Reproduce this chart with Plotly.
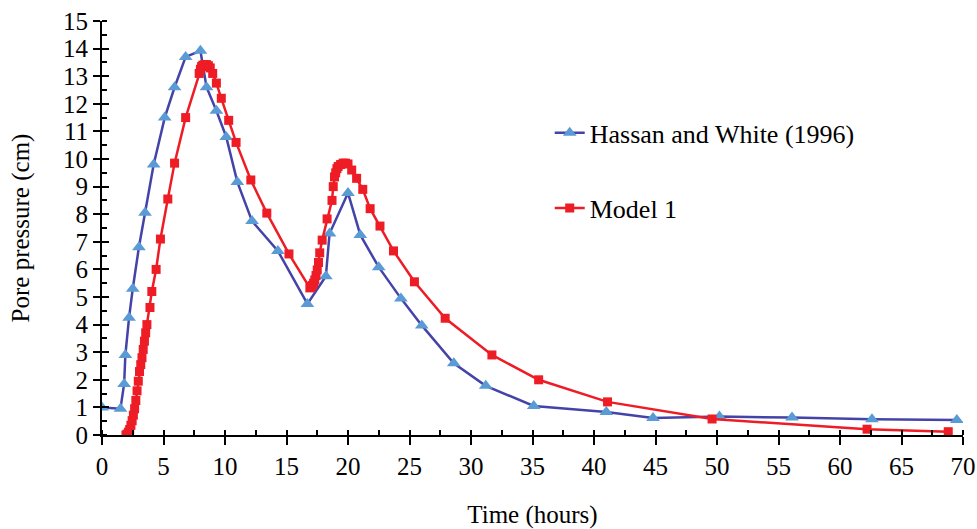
import plotly.graph_objects as go

# Measured pore pressure, Hassan and White (1996)
hw_time = [0.0, 1.5, 1.8, 1.9, 2.2, 2.5, 3.0, 3.5, 4.2, 5.1, 5.9, 6.8, 8.0, 8.5,
           9.3, 10.1, 11.0, 12.2, 14.3, 16.7, 18.2, 18.5, 20.0, 21.0, 22.5, 24.3,
           26.0, 28.6, 31.2, 35.1, 41.0, 44.8, 50.2, 56.1, 62.6, 69.5]
hw_pressure = [1.0, 0.95, 1.85, 2.9, 4.25, 5.3, 6.8, 8.05, 9.8, 11.5, 12.6, 13.7,
               13.92, 12.6, 11.75, 10.8, 9.17, 7.75, 6.67, 4.75, 5.75, 7.3, 8.77,
               7.25, 6.08, 4.95, 3.97, 2.6, 1.78, 1.05, 0.83, 0.62, 0.67, 0.63,
               0.57, 0.54]

# Simulated pore pressure, Model 1
m1_time = [1.95, 2.05, 2.15, 2.25, 2.35, 2.45, 2.55, 2.65, 2.75, 2.85, 2.95, 3.05,
           3.15, 3.25, 3.35, 3.45, 3.55, 3.65, 3.9, 4.05, 4.4, 4.75, 5.35, 5.9,
           6.8, 7.9, 8.0, 8.1, 8.2, 8.35, 8.5, 8.65, 8.8, 9.0, 9.3, 9.7, 10.3,
           10.9, 12.1, 13.4, 15.2, 16.9, 17.0, 17.1, 17.2, 17.3, 17.4, 17.5, 17.6,
           17.7, 17.9, 18.3, 18.7, 18.8, 18.9, 19.0, 19.1, 19.2, 19.4, 19.6, 19.8,
           20.0, 20.3, 20.7, 21.2, 21.8, 22.6, 23.7, 25.4, 27.9, 31.7, 35.5, 41.1,
           49.6, 62.2, 68.8]
m1_pressure = [0.0, 0.03, 0.1, 0.2, 0.35, 0.52, 0.72, 0.95, 1.25, 1.6, 1.95, 2.3,
               2.55, 2.8, 3.1, 3.4, 3.7, 4.0, 4.62, 5.2, 6.0, 7.1, 8.55, 9.85,
               11.5, 13.1, 13.25, 13.35, 13.4, 13.42, 13.42, 13.38, 13.3, 13.1,
               12.75, 12.2, 11.4, 10.6, 9.24, 8.04, 6.56, 5.33, 5.36, 5.42, 5.5,
               5.62, 5.78, 5.98, 6.25, 6.6, 7.06, 7.83, 8.5, 9.0, 9.35, 9.5, 9.65,
               9.73, 9.8, 9.85, 9.85, 9.82, 9.6, 9.3, 8.9, 8.2, 7.57, 6.67, 5.55,
               4.23, 2.9, 2.0, 1.2, 0.58, 0.21, 0.12]

x_ticks = list(range(0, 75, 5))
y_ticks = list(range(0, 16, 1))

FONT = "Liberation Serif, Times New Roman, serif"

fig = go.Figure()

fig.add_trace(go.Scatter(
    x=hw_time, y=hw_pressure, mode="lines+markers",
    name="Hassan and White (1996)",
    line=dict(color="#4444A8", width=2.5),
    marker=dict(symbol="triangle-up", size=12, color="#5B9BD5",
                line=dict(width=0)),
    legend="legend",
))

fig.add_trace(go.Scatter(
    x=m1_time, y=m1_pressure, mode="lines+markers",
    name="Model 1",
    line=dict(color="#EE1C25", width=2.5),
    marker=dict(symbol="square", size=9, color="#EE1C25", line=dict(width=0)),
    legend="legend2",
))

# Invisible trace on the overlay axes so the inside half of major ticks is drawn
fig.add_trace(go.Scatter(x=[0], y=[0], mode="markers", opacity=0,
                         xaxis="x2", yaxis="y2", showlegend=False,
                         hoverinfo="skip"))

tick_font = dict(family=FONT, size=25, color="black")

fig.update_layout(
    width=977, height=529,
    margin=dict(l=102, r=14, t=21, b=94, autoexpand=False),
    paper_bgcolor="white", plot_bgcolor="white",
    font=dict(family=FONT, size=25, color="black"),
    xaxis=dict(
        range=[0, 70], tickvals=x_ticks, ticks="outside", ticklen=8,
        tickwidth=2, tickcolor="black", showline=True, linecolor="black",
        linewidth=2, showgrid=False, zeroline=False, tickfont=tick_font,
        automargin=False,
        minor=dict(dtick=2.5, ticks="inside", ticklen=5, tickwidth=1.5,
                   tickcolor="black", showgrid=False),
        title=dict(text="Time (hours)", font=dict(family=FONT, size=25),
                   standoff=26),
    ),
    yaxis=dict(
        range=[0, 15], tickvals=y_ticks, ticks="outside", ticklen=7,
        tickwidth=2, tickcolor="black", showline=True, linecolor="black",
        linewidth=2, showgrid=False, zeroline=False, tickfont=tick_font,
        automargin=False,
        minor=dict(dtick=0.5, ticks="inside", ticklen=5, tickwidth=1.5,
                   tickcolor="black", showgrid=False),
        title=dict(text="Pore pressure (cm)", font=dict(family=FONT, size=25),
                   standoff=26),
    ),
    xaxis2=dict(range=[0, 70], overlaying="x", tickvals=x_ticks,
                ticks="inside", ticklen=5, tickwidth=2, tickcolor="black",
                showticklabels=False, showgrid=False, zeroline=False,
                showline=False),
    yaxis2=dict(range=[0, 15], overlaying="y", tickvals=y_ticks,
                ticks="inside", ticklen=7, tickwidth=2, tickcolor="black",
                showticklabels=False, showgrid=False, zeroline=False,
                showline=False),
    legend=dict(x=0.52, y=0.73, xanchor="left", yanchor="middle",
                bgcolor="rgba(0,0,0,0)", font=dict(family=FONT, size=26)),
    legend2=dict(x=0.52, y=0.548, xanchor="left", yanchor="middle",
                 bgcolor="rgba(0,0,0,0)", font=dict(family=FONT, size=26)),
)

fig.write_html("out.html")
